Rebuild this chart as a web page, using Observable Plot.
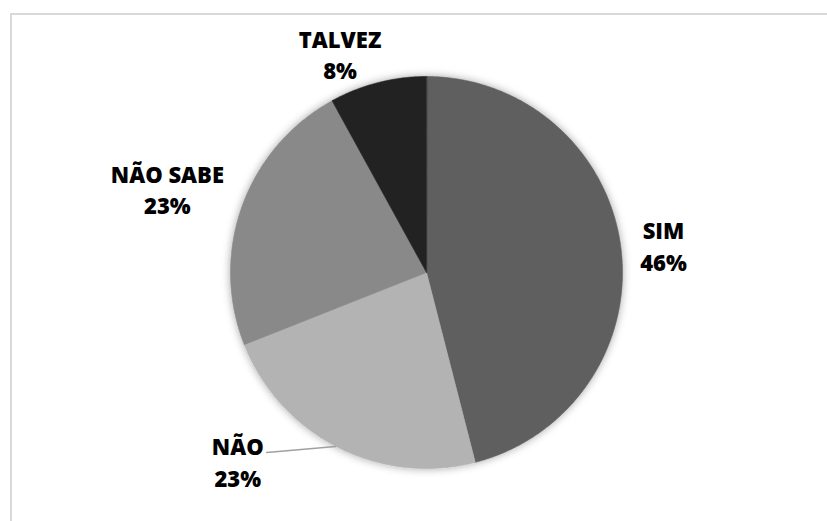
<!DOCTYPE html>
<html>
<head>
<meta charset="utf-8">
<script src="https://cdn.jsdelivr.net/npm/d3@7"></script>
<script src="https://cdn.jsdelivr.net/npm/@observablehq/plot@0.6"></script>
<style>
  html, body { margin: 0; padding: 0; background: #fff; overflow: hidden; }
  #wrap { position: relative; width: 827px; height: 521px; }
  #box { position: absolute; left: 10px; top: 13px; width: 900px; height: 600px;
         border-top: 2px solid #d9d9d9; border-left: 2px solid #d9d9d9; }
  #chart { position: absolute; left: 0; top: 0; }
</style>
</head>
<body>
<div id="wrap"><div id="box"></div><div id="chart"></div></div>
<script>
// ---- data ----
const categories = ["SIM", "NÃO", "NÃO SABE", "TALVEZ"];
const values = [46, 23, 23, 8];
const percentLabels = ["46%", "23%", "23%", "8%"];
const colors = ["#5f5f5f", "#b3b3b3", "#898989", "#232323"];

// ---- layout ----
const W = 827, H = 521, CX = 426, CY = 272, R = 196;
// label anchors in unit-circle coordinates (y up)
const labelPos = [[1.209, 0.14], [-0.963, -0.96], [-1.322, 0.43], [-0.441, 1.118]];
const leader = [[-0.815, -0.918], [-0.464, -0.888]];

const pie = d3.pie().sort(null).value(d => d.value)(
  categories.map((c, i) => ({name: c, value: values[i]}))
);

function slicePolygon(p) {
  const pts = [[0, 0]];
  const n = Math.max(8, Math.ceil((p.endAngle - p.startAngle) / 0.01));
  for (let k = 0; k <= n; k++) {
    const a = p.startAngle + (p.endAngle - p.startAngle) * k / n;
    pts.push([Math.sin(a), Math.cos(a)]);
  }
  pts.push([0, 0]);
  return {type: "Feature", properties: {name: p.data.name}, geometry: {type: "Polygon", coordinates: [pts]}};
}
const slices = {type: "FeatureCollection", features: pie.map(slicePolygon)};
// domain rectangle that maps exactly onto the full SVG area
const x0 = -CX / R, x1 = (W - CX) / R, y0 = -(H - CY) / R, y1 = CY / R;
const domain = {type: "Polygon", coordinates: [[[x0, y0], [x1, y0], [x1, y1], [x0, y1], [x0, y0]]]};

const labels = categories.map((c, i) => ({
  text: c + "\n" + percentLabels[i], x: labelPos[i][0], y: labelPos[i][1]
}));

const plot = Plot.plot({
  width: W,
  height: H,
  margin: 0,
  projection: {type: "reflect-y", domain},
  color: {domain: categories, range: colors},
  style: {background: "transparent"},
  marks: [
    Plot.geo(slices, {fill: d => d.properties.name, stroke: d => d.properties.name, strokeWidth: 0.6}),
    Plot.line(leader, {x: d => d[0], y: d => d[1], stroke: "#a0a0a0", strokeWidth: 1.6}),
    Plot.text(labels, {
      x: "x", y: "y", text: "text",
      fontFamily: "'Open Sans', sans-serif", fontWeight: 800, fontSize: 22,
      lineHeight: 1.44, fill: "#000", textAnchor: "middle"
    })
  ]
});

// soft shadow around the pie
const ns = "http://www.w3.org/2000/svg";
const defs = document.createElementNS(ns, "defs");
defs.innerHTML = '<filter id="pieShadow" x="-20%" y="-20%" width="140%" height="140%">' +
  '<feDropShadow dx="0" dy="0" stdDeviation="4" flood-color="#000" flood-opacity="0.35"/></filter>';
plot.insertBefore(defs, plot.firstChild);
const geoG = plot.querySelector('g[aria-label="geo"]');
if (geoG) geoG.setAttribute("filter", "url(#pieShadow)");

document.getElementById("chart").appendChild(plot);
</script>
</body>
</html>
